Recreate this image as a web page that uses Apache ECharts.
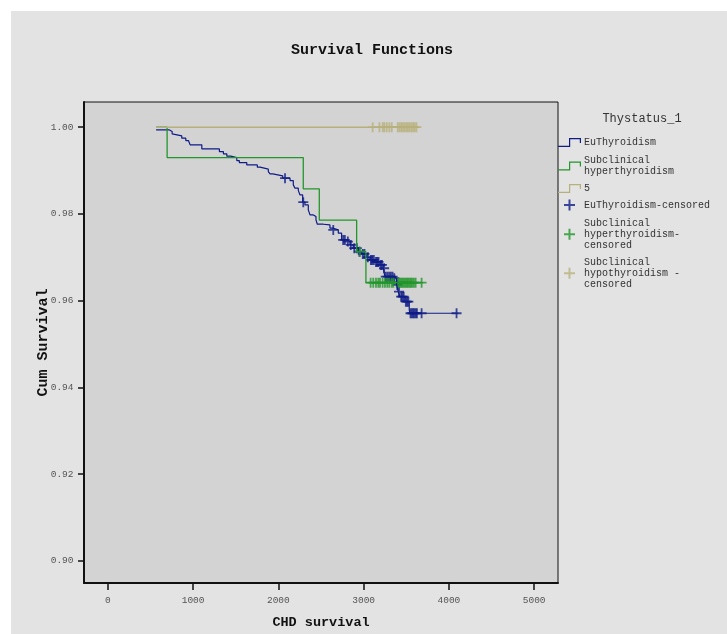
<!DOCTYPE html>
<html>
<head>
<meta charset="utf-8">
<script src="https://cdn.jsdelivr.net/npm/echarts@6/dist/echarts.min.js"></script>
<style>
html,body{margin:0;padding:0;background:#fff;}
#chart{width:727px;height:634px;}
</style>
</head>
<body>
<div id="chart"></div>
<script>
// ---- data ----
const xTicks = [0, 1000, 2000, 3000, 4000, 5000];
const yTicks = [0.90, 0.92, 0.94, 0.96, 0.98, 1.00];

// Kaplan-Meier steps: [time, survival after that time]
const euSteps = [[566,0.99938],[718,0.99898],[754,0.99845],[765,0.99800],[867,0.99746],[914,0.99691],[945,0.99645],[965,0.99592],[1102,0.99499],[1308,0.99437],[1355,0.99384],[1395,0.99331],[1442,0.99299],[1512,0.99230],[1542,0.99183],[1629,0.99130],[1753,0.99077],[1785,0.99031],[1882,0.98976],[1902,0.98923],[1934,0.98877],[2051,0.98824],[2137,0.98768],[2175,0.98669],[2195,0.98593],[2234,0.98537],[2254,0.98438],[2285,0.98270],[2312,0.98207],[2351,0.98092],[2371,0.97977],[2410,0.97938],[2441,0.97861],[2457,0.97762],[2527,0.97746],[2605,0.97670],[2644,0.97631],[2703,0.97555],[2742,0.97400],[2801,0.97361],[2840,0.97285],[2878,0.97209],[2937,0.97130],[2977,0.97077],[3035,0.97001],[3074,0.96939],[3133,0.96892],[3191,0.96823],[3230,0.96747],[3250,0.96553],[3347,0.96516],[3387,0.96362],[3406,0.96207],[3426,0.96092],[3484,0.95977],[3535,0.95785],[3543,0.95709],[4109,0.95709]];
const hyperSteps = [[566,1.0],[695,0.99299],[2292,0.98577],[2480,0.97855],[2918,0.97130],[3027,0.96415],[3699,0.96415]];
const hypoSteps = [[566,1.0],[3640,1.0]];

// censored observations: [time, survival]
const euCensored = [[2078,0.98824],[2292,0.98270],[2644,0.97631],[2760,0.97400],[2780,0.97400],[2815,0.97361],[2850,0.97285],[2890,0.97209],[2920,0.97209],[2950,0.97130],[2990,0.97077],[3010,0.97077],[3050,0.97001],[3085,0.96939],[3100,0.96939],[3120,0.96939],[3145,0.96892],[3160,0.96892],[3175,0.96892],[3200,0.96823],[3215,0.96823],[3240,0.96747],[3260,0.96553],[3280,0.96553],[3300,0.96553],[3320,0.96553],[3340,0.96553],[3360,0.96516],[3395,0.96362],[3415,0.96207],[3440,0.96092],[3455,0.96092],[3470,0.96092],[3495,0.95977],[3510,0.95977],[3525,0.95977],[3550,0.95709],[3565,0.95709],[3580,0.95709],[3595,0.95709],[3610,0.95709],[3625,0.95709],[3680,0.95709],[4090,0.95709]];
const hyperCensored = [[2957,0.97130],[3082,0.96415],[3113,0.96415],[3145,0.96415],[3172,0.96415],[3192,0.96415],[3223,0.96415],[3250,0.96415],[3277,0.96415],[3301,0.96415],[3329,0.96415],[3348,0.96415],[3388,0.96415],[3405,0.96415],[3420,0.96415],[3435,0.96415],[3450,0.96415],[3465,0.96415],[3480,0.96415],[3495,0.96415],[3510,0.96415],[3525,0.96415],[3540,0.96415],[3555,0.96415],[3570,0.96415],[3590,0.96415],[3610,0.96415],[3680,0.96415]];
const hypoCensored = [[3106,1.0],[3185,1.0],[3224,1.0],[3243,1.0],[3271,1.0],[3302,1.0],[3330,1.0],[3400,1.0],[3420,1.0],[3440,1.0],[3460,1.0],[3480,1.0],[3500,1.0],[3520,1.0],[3540,1.0],[3560,1.0],[3580,1.0],[3600,1.0],[3620,1.0]];

const names = ['EuThyroidism','Subclinical hyperthyroidism','5','EuThyroidism-censored','Subclinical hyperthyroidism-censored','Subclinical hypothyroidism -censored'];
const legendLabels = ['EuThyroidism','Subclinical\nhyperthyroidism','5','EuThyroidism-censored','Subclinical\nhyperthyroidism-\ncensored','Subclinical\nhypothyroidism -\ncensored'];
const colors = ['#0f1c86','#22962a','#b8b07c'];

// ---- styling ----
const MONO = '"Liberation Mono","DejaVu Sans Mono",monospace';
const STEP_ICON = 'path://M0,7.8 H11 V0 H23 V5 H21.8 V1.2 H12.2 V9 H0 Z';
const CROSS = 'path://M4.1,0 H5.9 V4.1 H10 V5.9 H5.9 V10 H4.1 V5.9 H0 V4.1 H4.1 Z';

const legendTops = [137, 155, 183, 199.5, 217.8, 256.8];
const legends = names.map((n, i) => {
  const isCross = i >= 3;
  return {
    data: [n],
    orient: 'vertical',
    left: isCross ? 564 : 558,
    top: legendTops[i],
    padding: 0,
    icon: isCross ? CROSS : STEP_ICON,
    itemWidth: isCross ? 11 : 23,
    itemHeight: isCross ? 11 : 9,
    formatter: () => legendLabels[i],
    textStyle: {
      fontFamily: MONO, fontSize: 10, color: '#333', lineHeight: 11,
      padding: isCross ? [0,0,0,4] : [0,0,0,-2]
    }
  };
});

const chart = echarts.init(document.getElementById('chart'), null, {renderer: 'canvas'});
chart.setOption({
  animation: false,
  backgroundColor: '#ffffff',
  graphic: [{
    type: 'rect', z: -100, silent: true,
    shape: {x: 11, y: 11, width: 716, height: 623},
    style: {fill: '#e3e3e3'}
  }],
  title: [
    {text: 'Survival Functions', left: 372, top: 43, textAlign: 'center', padding: 0,
     textStyle: {fontFamily: MONO, fontSize: 15, fontWeight: 'bold', color: '#111'}},
    {text: 'Thystatus_1', left: 642, top: 113, textAlign: 'center', padding: 0,
     textStyle: {fontFamily: MONO, fontSize: 12, fontWeight: 'normal', color: '#333'}}
  ],
  legend: legends,
  grid: {
    left: 84, right: 169, top: 102, bottom: 51,
    outerBoundsMode: 'none', containLabel: false,
    show: true, backgroundColor: '#d3d3d3', borderColor: '#111', borderWidth: 1
  },
  xAxis: {
    type: 'value', min: -280, max: 5280,
    name: 'CHD survival', nameLocation: 'middle', nameGap: 33, nameMoveOverlap: false,
    nameTextStyle: {fontFamily: MONO, fontSize: 13.5, fontWeight: 'bold', color: '#111'},
    axisLine: {show: true, onZero: false, lineStyle: {color: '#111', width: 2}},
    axisTick: {show: true, length: 7, customValues: xTicks, lineStyle: {color: '#111', width: 1.5}},
    axisLabel: {customValues: xTicks, margin: 12.5, fontFamily: MONO, fontSize: 9.5, color: '#555',
      formatter: v => String(v)},
    splitLine: {show: false}
  },
  yAxis: {
    type: 'value', min: 0.8949, max: 1.0058,
    name: 'Cum Survival', nameLocation: 'middle', nameGap: 33.5, nameMoveOverlap: false,
    nameTextStyle: {fontFamily: MONO, fontSize: 15, fontWeight: 'bold', color: '#111'},
    axisLine: {show: true, onZero: false, lineStyle: {color: '#111', width: 2}},
    axisTick: {show: true, length: 6, customValues: yTicks, lineStyle: {color: '#111', width: 1.5}},
    axisLabel: {customValues: yTicks, margin: 10.5, fontFamily: MONO, fontSize: 9.5, color: '#555',
      formatter: v => v.toFixed(2)},
    splitLine: {show: false}
  },
  series: [
    {name: names[0], type: 'line', step: 'end', data: euSteps, showSymbol: false, symbol: 'none',
     color: colors[0], lineStyle: {color: colors[0], width: 1.2}},
    {name: names[1], type: 'line', step: 'end', data: hyperSteps, showSymbol: false, symbol: 'none',
     color: colors[1], lineStyle: {color: colors[1], width: 1.3}},
    {name: names[2], type: 'line', step: 'end', data: hypoSteps, showSymbol: false, symbol: 'none',
     color: colors[2], lineStyle: {color: colors[2], width: 1.5}},
    {name: names[3], type: 'scatter', data: euCensored, symbol: CROSS, symbolSize: 10,
     color: colors[0], itemStyle: {color: colors[0]}},
    {name: names[4], type: 'scatter', data: hyperCensored, symbol: CROSS, symbolSize: 10,
     color: colors[1], itemStyle: {color: colors[1]}},
    {name: names[5], type: 'scatter', data: hypoCensored, symbol: CROSS, symbolSize: 10,
     color: colors[2], itemStyle: {color: colors[2]}}
  ]
});
</script>
</body>
</html>
